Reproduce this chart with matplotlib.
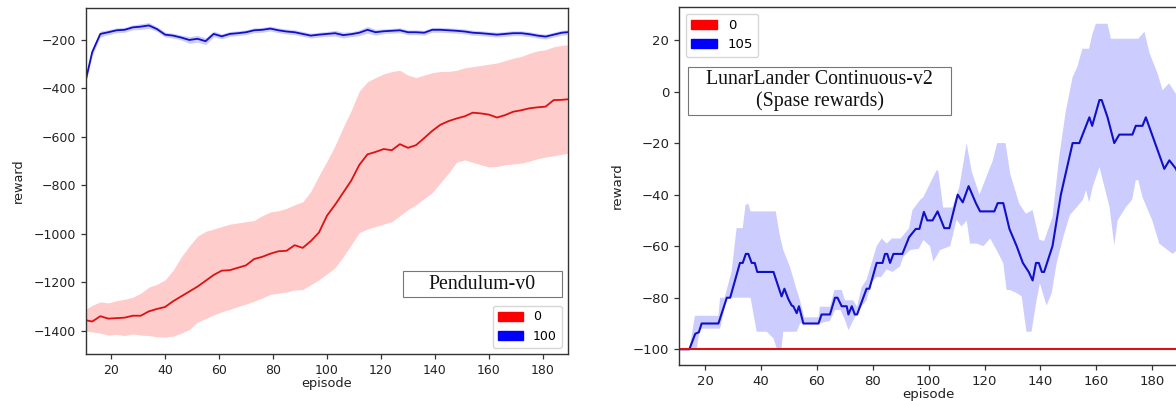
import numpy as np
import matplotlib
matplotlib.use("Agg")
import matplotlib.pyplot as plt
import matplotlib.patches as mpatches

# ---------------- Left panel: Pendulum-v0 ----------------
left_episodes = [10, 13, 16, 19, 22, 25, 28, 31, 34, 37,
                 40, 43, 46, 49, 52, 55, 58, 61, 64, 67,
                 70, 73, 76, 79, 82, 85, 88, 91, 94, 97,
                 100, 103, 106, 109, 112, 115, 118, 121, 124, 127,
                 130, 133, 136, 139, 142, 145, 148, 151, 154, 157,
                 160, 163, 166, 169, 172, 175, 178, 181, 184, 187, 189]

red_mean = [-1355, -1362, -1340, -1350, -1348, -1346, -1338, -1338, -1320, -1310,
            -1302, -1278, -1258, -1238, -1218, -1194, -1170, -1152, -1150, -1140,
            -1130, -1104, -1095, -1082, -1072, -1070, -1047, -1058, -1030, -995,
            -925, -880, -830, -780, -715, -672, -662, -650, -655, -630,
            -645, -634, -605, -575, -550, -535, -524, -515, -500, -503,
            -508, -520, -510, -496, -490, -482, -478, -475, -448, -447, -445]
red_upper = [-1315, -1295, -1281, -1285, -1276, -1270, -1262, -1245, -1220, -1208,
             -1190, -1150, -1095, -1050, -1010, -990, -980, -970, -960, -955,
             -950, -945, -925, -910, -905, -895, -880, -868, -825, -760,
             -700, -635, -560, -490, -410, -372, -355, -340, -330, -325,
             -345, -355, -345, -335, -330, -330, -325, -315, -310, -305,
             -300, -295, -285, -275, -268, -255, -245, -240, -228, -222, -220]
red_lower = [-1400, -1405, -1410, -1418, -1415, -1420, -1413, -1418, -1420, -1425,
             -1426, -1422, -1410, -1395, -1365, -1350, -1335, -1322, -1312, -1300,
             -1290, -1278, -1265, -1250, -1245, -1240, -1232, -1230, -1210, -1190,
             -1165, -1140, -1095, -1045, -995, -980, -970, -960, -950, -925,
             -900, -880, -855, -830, -790, -750, -705, -695, -705, -715,
             -724, -722, -715, -712, -708, -700, -690, -683, -678, -672, -668]

blue_mean = [-395, -250, -175, -168, -160, -158, -148, -145, -140, -155,
             -178, -182, -190, -200, -195, -205, -175, -185, -175, -172,
             -168, -160, -158, -153, -160, -165, -168, -175, -182, -178,
             -175, -172, -180, -176, -170, -158, -168, -164, -162, -160,
             -168, -168, -170, -158, -158, -160, -162, -165, -170, -172,
             -175, -178, -175, -172, -172, -176, -182, -186, -178, -170, -168]
blue_halfwidth = [10, 15, 12, 10, 10, 10, 10, 12, 12, 10,
                  10, 10, 10, 14, 14, 14, 12, 10, 10, 10,
                  10, 10, 10, 10, 10, 10, 10, 10, 10, 10,
                  10, 12, 12, 10, 12, 14, 12, 10, 10, 10,
                  10, 10, 10, 10, 10, 10, 10, 10, 10, 10,
                  10, 10, 10, 10, 10, 10, 10, 10, 10, 10, 10]

left_title = "Pendulum-v0"
left_labels = ["0", "100"]

# ---------------- Right panel: LunarLander ----------------
right_mean_x = [11, 14.4, 16.5, 17.8, 18.8, 24.8, 27.8, 29, 32.5, 33.5, 34.6, 35.5,
                36.7, 37.8, 38.7, 44.5, 47.4, 48.4, 49.8, 51, 51.6, 52.8, 53.6, 55.2,
                60.6, 61.7, 64.7, 66.5, 67.4, 68.9, 70.7, 71.3, 72.5, 73.6, 74.4, 77.8,
                78.8, 81.4, 83.5, 84.4, 85.2, 86.2, 87.4, 90.6, 93, 95.4, 96.7, 98.3,
                99.5, 101.4, 103.2, 105.6, 107.4, 110.4, 112.2, 114.3, 116.9, 118.4,
                123.5, 124.7, 126.7, 128.9, 131.5, 133.7, 135.8, 137.2, 138.4, 139.4,
                140.5, 141.3, 144.3, 147.3, 151.5, 153.9, 157.5, 158.5, 161.1, 161.9,
                164, 166.4, 168.2, 172.9, 174.1, 176.5, 177.7, 184.3, 186.1, 188.5, 189.5]
right_mean_y = [-100, -100, -94, -93.4, -90, -90, -80, -80, -66.5, -66.5, -63, -63,
                -66.5, -66.5, -70, -70, -79.5, -76.5, -80.5, -83, -83.3, -86, -83.3, -90,
                -90, -86.5, -86.5, -80, -80, -83.3, -83.3, -86.5, -83.3, -86.5, -86.5, -76.5,
                -76.5, -66.5, -66.5, -63, -63, -66.5, -63, -63, -56.5, -53.3, -53.3, -46.7,
                -50, -50, -46.5, -53, -53, -40, -43, -36.7, -43.3, -46.5,
                -46.5, -43.3, -43.3, -53.3, -60, -66.5, -70, -73.3, -66.5, -66.5,
                -70, -70, -60, -40, -20, -20, -10, -13.3, -3.3, -3.3,
                -10, -20, -16.7, -16.7, -13.3, -13.3, -10, -30, -26.7, -30, -33]

right_upper_x = [11, 14.4, 16.4, 24.8, 25.4, 27, 29.5, 31.3, 33.5, 34.5, 35.5, 36.3,
                 45.3, 46.8, 48, 50.4, 52.8, 54, 55.5, 60.6, 61.1, 64.7, 66.3, 68.9,
                 70.1, 73, 74.4, 76, 77.8, 81.4, 83.2, 85, 86.8, 90, 93, 94.2, 97,
                 98.1, 99.9, 102.9, 103.5, 105.2, 108.5, 111, 113.6, 115.4, 118.2, 121.4,
                 122.9, 124.5, 127.5, 129.2, 132.4, 134.8, 137.2, 139.6, 141.3, 144.3,
                 146.7, 149, 151.5, 153.2, 155, 157.4, 158.5, 159.8, 164, 165.2, 175,
                 177.2, 179, 181.9, 183.7, 186, 188.5, 189.5]
right_upper_y = [-100, -100, -87, -87, -80, -80, -70, -53, -53, -44, -43.5, -46.5,
                 -46.5, -56, -61.5, -68, -77, -81, -87.6, -87.6, -83.5, -83.5, -77, -77,
                 -81, -81, -83.5, -76, -73, -60, -57, -59, -57, -57, -53, -46, -42,
                 -41, -37, -30.4, -31, -45, -45, -37, -20, -31, -40, -31,
                 -27, -20, -20, -32, -43.5, -47.4, -46, -57.5, -58, -48.7,
                 -25.4, -8, 5.6, 9.6, 16.6, 16.6, 22, 26.3, 26.3, 20.5, 20.5,
                 23.2, 15, 7, 0.5, 3.2, -1, -2]

right_lower_x = [11, 17, 18.2, 25.4, 26.6, 27.8, 36.3, 37.3, 38.5, 42.1, 44.5, 45.6,
                 47.4, 48, 52.8, 54, 60.6, 64.7, 66.5, 68.5, 70.1, 71.3, 73.1, 74.9,
                 77.8, 79.6, 81.4, 83, 85, 87, 89.7, 91, 93.4, 96.5, 98.1, 100.5,
                 101.7, 104.1, 107.7, 110, 111.8, 113.6, 114.8, 117.2, 119.6, 122,
                 124.3, 126.7, 127.9, 129.1, 131.5, 133.3, 134.4, 135, 136.8, 138.6,
                 139.8, 141.6, 142.2, 144, 145.8, 148.2, 150.5, 152.9, 155.2, 156.3,
                 157.4, 158.7, 161.1, 164.7, 166.4, 167.6, 170.6, 172.8, 174.1, 175,
                 176.5, 180, 182.5, 187.3, 189.5]
right_lower_y = [-100, -100, -92, -92, -86, -80, -80, -86, -93.2, -93.2, -95.8, -99.5,
                 -99.5, -93.2, -93.2, -90, -90, -89, -84.8, -84.8, -88.7, -92.6, -88.7, -84.8,
                 -81, -74, -72, -72, -69, -70, -68, -64, -61.5, -61, -57.6, -60,
                 -66, -61.5, -60, -49.8, -52.4, -50, -59, -59, -60, -57,
                 -61.5, -66.6, -77, -77, -78.2, -79.5, -88.6, -93.2, -93.2, -81,
                 -74.5, -81, -83, -78.3, -66.6, -56.3, -48, -45, -42, -38.3,
                 -43, -37, -29.3, -44.8, -59.7, -50, -44.8, -42, -34.4, -34.4,
                 -41, -50, -59, -63, -61]

right_red_x = [11, 189.5]
right_red_y = [-100, -100]

right_title = "LunarLander Continuous-v2\n(Spase rewards)"
right_labels = ["0", "105"]

# ---------------- Styling ----------------
RED_LINE = "#dd1111"
BLUE_LINE = "#1010c8"
RED_FILL = (1.0, 0.0, 0.0, 0.2)
BLUE_FILL = (0.0, 0.0, 1.0, 0.2)
SPINE = "#333333"

W, H = 1176, 401
fig = plt.figure(figsize=(W / 100, H / 100), dpi=100)


def px_axes(x0, x1, y0, y1):
    return fig.add_axes([x0 / W, (H - y1) / H, (x1 - x0) / W, (y1 - y0) / H])


def style(ax, fs):
    for s in ax.spines.values():
        s.set_color(SPINE)
        s.set_linewidth(1.0)
    ax.tick_params(direction="out", length=3.5, width=0.9, colors=SPINE,
                   labelsize=fs, labelcolor="#222222")


# Left
axL = px_axes(86, 568, 8, 354)
axL.fill_between(left_episodes, red_lower, red_upper, color=RED_FILL, lw=0)
bm = np.array(blue_mean)
bw = np.array(blue_halfwidth)
axL.fill_between(left_episodes, bm - bw, bm + bw, color=BLUE_FILL, lw=0)
axL.plot(left_episodes, red_mean, color=RED_LINE, lw=1.3)
axL.plot(left_episodes, blue_mean, color=BLUE_LINE, lw=1.3)
axL.set_xlim(10.7, 189.3)
axL.set_ylim(-1496, -68)
axL.set_xticks([20, 40, 60, 80, 100, 120, 140, 160, 180])
axL.set_yticks([-1400, -1200, -1000, -800, -600, -400, -200])
style(axL, 9)
axL.set_xlabel("episode", fontsize=9.3, labelpad=0, color="#222222")
axL.set_ylabel("reward", fontsize=9.3, color="#222222")
axL.yaxis.set_label_coords(-0.127, 0.5)
axL.add_patch(mpatches.Rectangle((0.657, 0.164), 0.330, 0.0751, transform=axL.transAxes,
                                 facecolor="white", edgecolor="#777777", lw=0.8, zorder=5))
axL.text(0.822, 0.2015, left_title, transform=axL.transAxes, ha="center", va="center",
         family="Liberation Serif", fontsize=14.3, zorder=6, color="#111111")
hL = [mpatches.Patch(facecolor="red", edgecolor="red"),
      mpatches.Patch(facecolor="blue", edgecolor="blue")]
axL.legend(hL, left_labels, loc="lower right", fontsize=9, framealpha=0.8)

# Right
axR = px_axes(679, 1178, 7, 365)
upoly_x = np.concatenate([right_upper_x, right_lower_x[::-1]])
upoly_y = np.concatenate([right_upper_y, right_lower_y[::-1]])
axR.fill(upoly_x, upoly_y, color=BLUE_FILL, lw=0)
axR.plot(right_mean_x, right_mean_y, color=BLUE_LINE, lw=1.5)
axR.plot(right_red_x, right_red_y, color=RED_LINE, lw=1.5)
axR.set_xlim(10.7, 189.2)
axR.set_ylim(-106.1, 32.8)
axR.set_xticks([20, 40, 60, 80, 100, 120, 140, 160, 180])
axR.set_yticks([-100, -80, -60, -40, -20, 0, 20])
style(axR, 9.5)
axR.set_xlabel("episode", fontsize=9.6, labelpad=0, color="#222222")
axR.set_ylabel("reward", fontsize=9.6, color="#222222")
axR.yaxis.set_label_coords(-0.110, 0.5)
axR.add_patch(mpatches.Rectangle((0.018, 0.6983), 0.5277, 0.135, transform=axR.transAxes,
                                 facecolor="white", edgecolor="#777777", lw=0.8, zorder=5))
axR.text(0.282, 0.7658, right_title, transform=axR.transAxes, ha="center", va="center",
         family="Liberation Serif", fontsize=14.3, zorder=6, color="#111111",
         linespacing=1.15)
hR = [mpatches.Patch(facecolor="red", edgecolor="red"),
      mpatches.Patch(facecolor="blue", edgecolor="blue")]
axR.legend(hR, right_labels, loc="upper left", fontsize=9.5, framealpha=0.8)

fig.savefig("out.png", dpi=100)
